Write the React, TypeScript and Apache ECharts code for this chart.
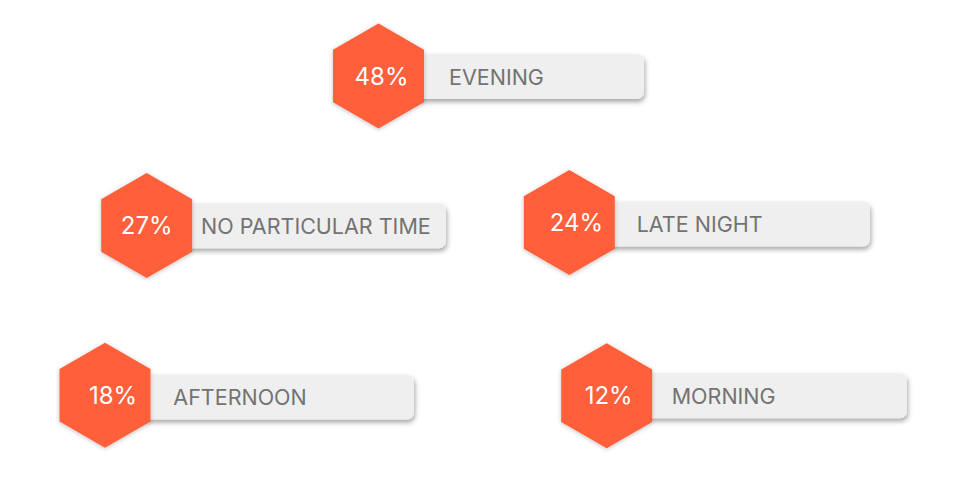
import { useEffect, useRef } from "react";
import * as echarts from "echarts";

// data
const labels = ["EVENING", "NO PARTICULAR TIME", "LATE NIGHT", "AFTERNOON", "MORNING"];
const shares = [48, 27, 24, 18, 12];

// layout (page pixels): hex centre, bar centre/right edge, label start, pct nudge
const hexX = [378.5, 146.7, 569.3, 105, 606.7];
const hexY = [76, 225.5, 222.5, 395.3, 395.8];
const barY = [76.5, 225.8, 224, 397, 395.8];
const barRight = [644, 446, 870, 414, 907];
const labelX = [449, 201, 636.7, 173.3, 671.7];
const pctDx = [3, 0, 7, 8, 2];

const W = 961;
const H = 485;
const HEX_R = 52.5;
const BAR_H = 45;
const FONT = "Inter, 'Open Sans', sans-serif";

export default function App() {
  const ref = useRef<HTMLDivElement>(null);

  useEffect(() => {
    if (!ref.current) return;
    const chart = echarts.init(ref.current, null, { renderer: "svg" });

    const renderItem = (params: any, api: any) => {
      const i = params.dataIndex;
      const [cx, cy] = api.coord([hexX[i], hexY[i]]);
      const [rx, by] = api.coord([barRight[i], barY[i]]);
      const [lx] = api.coord([labelX[i], 0]);
      const hw = HEX_R * Math.sqrt(3) / 2;
      const pts = [
        [cx, cy - HEX_R],
        [cx + hw, cy - HEX_R / 2],
        [cx + hw, cy + HEX_R / 2],
        [cx, cy + HEX_R],
        [cx - hw, cy + HEX_R / 2],
        [cx - hw, cy - HEX_R / 2],
      ];
      return {
        type: "group",
        children: [
          {
            type: "rect",
            shape: { x: cx, y: by - BAR_H / 2, width: rx - cx, height: BAR_H, r: 7 },
            style: {
              fill: "#efefef",
              shadowColor: "rgba(0,0,0,0.35)",
              shadowBlur: 5,
              shadowOffsetY: 3,
              shadowOffsetX: 1,
            },
          },
          {
            type: "polygon",
            shape: { points: pts },
            style: {
              fill: "#ff5e3a",
              shadowColor: "rgba(0,0,0,0.25)",
              shadowBlur: 4,
              shadowOffsetY: 1,
            },
          },
          {
            type: "text",
            x: cx + pctDx[i],
            y: cy,
            style: {
              text: `${api.value(1)}%`,
              fill: "#ffffff",
              fontFamily: FONT,
              fontSize: 24,
              fontWeight: 400,
              align: "center",
              verticalAlign: "middle",
            },
          },
          {
            type: "text",
            x: lx,
            y: by,
            style: {
              text: labels[i],
              fill: "#737373",
              fontFamily: FONT,
              fontSize: 21.5,
              fontWeight: 400,
              align: "left",
              verticalAlign: "middle",
            },
          },
        ],
      };
    };

    chart.setOption({
      animation: false,
      backgroundColor: "#ffffff",
      grid: { left: 0, right: 0, top: 0, bottom: 0 },
      xAxis: { type: "value", min: 0, max: W, show: false },
      yAxis: { type: "value", min: 0, max: H, inverse: true, show: false },
      series: [
        {
          type: "custom",
          renderItem,
          data: shares.map((v, i) => [i, v]),
          silent: true,
        },
      ],
    });

    return () => chart.dispose();
  }, []);

  return (
    <div
      ref={ref}
      style={{ position: "fixed", left: 0, top: 0, width: W, height: H }}
    />
  );
}
